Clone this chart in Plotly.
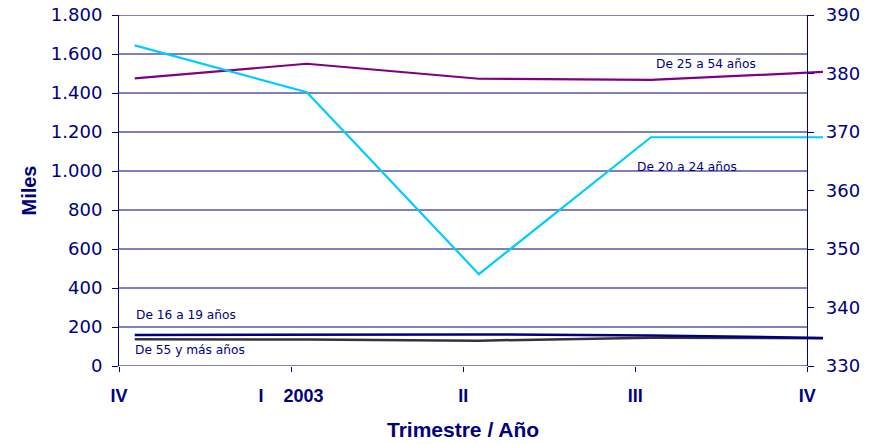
import numpy as np
import plotly.graph_objects as go

# trimestres IV-2002 .. IV-2003
quarters = ["IV", "I\u00a0\u00a0\u00a0\u00a02003", "II", "III", "IV"]

# miles (eje izquierdo)
age_16_19 = [159, 159, 162, 157, 144]
age_25_54 = [1475, 1550, 1473, 1467, 1508]
age_55_plus = [137, 136, 130, 145, 142]
# miles (eje derecho)
age_20_24 = [384.8, 376.8, 345.7, 369.1, 369.1]

left_ticks = list(range(0, 1801, 200))
right_ticks = list(range(330, 391, 10))

navy = "#000080"
shift = 0.0915  # Excel draws points a bit right of the tick marks
idx = np.arange(len(quarters))

fig = go.Figure()
fig.add_trace(go.Scatter(x=idx, y=age_25_54, mode="lines", line=dict(color="#800080", width=2.2)))
fig.add_trace(go.Scatter(x=idx, y=age_20_24, mode="lines", yaxis="y2", line=dict(color="#00CCFF", width=2.2)))
fig.add_trace(go.Scatter(x=idx, y=age_55_plus, mode="lines", line=dict(color="#333333", width=2.5)))
fig.add_trace(go.Scatter(x=idx, y=age_16_19, mode="lines", line=dict(color=navy, width=2.5)))

# gridlines stop at the right axis, lines run a little past it
for v in left_ticks:
    fig.add_shape(type="line", xref="x", yref="y", x0=-shift, x1=idx[-1] - shift, y0=v, y1=v,
                  line=dict(color=navy, width=1), layer="below")

labels = [("De 25 a 54 años", 3.413, 1549, "y"),
          ("De 20 a 24 años", 3.30, 364.0, "y2"),
          ("De 16 a 19 años", 0.392, 262, "y"),
          ("De 55 y más años", 0.415, 82, "y")]
for txt, x, y, yr in labels:
    fig.add_annotation(text=txt, x=x - shift, y=y, xref="x", yref=yr, showarrow=False,
                       font=dict(family="DejaVu Sans", size=12.2, color=navy))

fig.add_annotation(text="<b>Trimestre / Año</b>", x=2 - shift, y=-0.182, xref="x", yref="paper",
                   showarrow=False, yanchor="middle",
                   font=dict(family="Liberation Sans", size=21, color=navy))

fig.update_layout(
    width=875, height=444,
    margin=dict(l=119, r=52, t=15, b=78, autoexpand=False),
    paper_bgcolor="white", plot_bgcolor="white",
    showlegend=False,
    separators=",.",
    xaxis=dict(range=[-shift, idx[-1]], tickvals=idx - shift, ticktext=quarters,
               showgrid=False, zeroline=False, showline=False, automargin=False,
               ticks="outside", ticklen=5, tickcolor=navy, ticklabelstandoff=8,
               tickfont=dict(family="Liberation Sans", size=18, color=navy, weight="bold")),
    yaxis=dict(range=[0, 1800], tickvals=left_ticks, tickformat=",d", automargin=False,
               showgrid=False, zeroline=False, showline=True, linecolor=navy, linewidth=1,
               ticks="outside", ticklen=6, tickcolor=navy, ticklabelstandoff=6,
               tickfont=dict(family="DejaVu Sans", size=18, color=navy),
               title=dict(text="<b>Miles</b>", standoff=8,
                          font=dict(family="Liberation Sans", size=20, color=navy))),
    yaxis2=dict(range=[330, 390], tickvals=right_ticks, overlaying="y", side="right",
                anchor="free", position=idx[-1] / (idx[-1] + shift), automargin=False,
                showgrid=False, zeroline=False, showline=True, linecolor=navy, linewidth=1,
                ticks="outside", ticklen=6, tickcolor=navy, ticklabelstandoff=8,
                tickfont=dict(family="DejaVu Sans", size=18, color=navy)),
)

fig.write_html("out.html", config={"displayModeBar": False},
               post_script="document.body.style.margin='0';")
